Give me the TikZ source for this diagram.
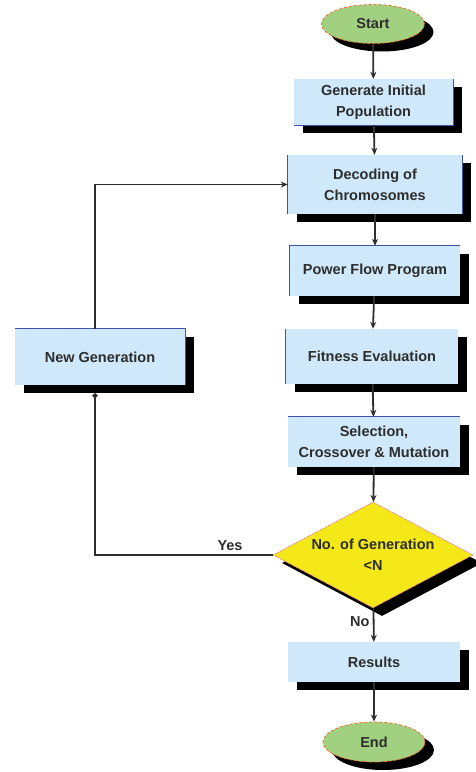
\documentclass[tikz,border=0pt]{standalone}
\usepackage{fontspec}
\setmainfont{Liberation Sans}
\usetikzlibrary{shapes.geometric,shadows,arrows.meta}
\definecolor{boxblue}{RGB}{207,233,250}
\definecolor{rimblue}{RGB}{62,84,168}
\definecolor{termgreen}{RGB}{160,208,128}
\definecolor{termedge}{RGB}{232,112,42}
\definecolor{testyellow}{RGB}{244,232,24}
\definecolor{testedge}{RGB}{232,110,170}
\definecolor{ink}{RGB}{45,45,45}
\tikzset{
  every node/.style={font=\fontsize{14.5}{21}\selectfont\bfseries, text=ink, align=center},
  shadowed/.style={drop shadow={fill=black, opacity=1, shadow xshift=9pt, shadow yshift=-8pt}},
  termbox/.style={ellipse, shadowed, fill=termgreen, draw=termedge, dash pattern=on 3pt off 2pt, line width=0.8pt, inner sep=0pt},
  procbox/.style={rectangle, shadowed, fill=boxblue, inner sep=0pt},
  testbox/.style={diamond, shadowed, fill=testyellow, draw=testedge, dash pattern=on 2pt off 1pt, line width=0.6pt, aspect=1.9, inner sep=0pt},
  rim/.style={draw=rimblue, line width=1.1pt},
}
\begin{document}
\begin{tikzpicture}[x=1pt, y=-1pt]
      \useasboundingbox (0,0) rectangle (475,772);
      \node[termbox, minimum width=103pt, minimum height=39pt] (start) at (373,24) {Start};
      \node[procbox, minimum width=159pt, minimum height=46pt] (init) at (373.5,102) {Generate Initial\\Population};
      \node[procbox, minimum width=174pt, minimum height=59pt] (decode) at (375,184.5) {Decoding of\\Chromosomes};
      \node[procbox, minimum width=170pt, minimum height=50pt] (flow) at (375,271) {Power Flow Program};
      \node[procbox, minimum width=172pt, minimum height=55pt] (fitness) at (372,356.5) {Fitness Evaluation};
      \node[procbox, minimum width=172pt, minimum height=50pt] (select) at (374,442) {Selection,\\Crossover \& Mutation};
      \node[testbox, minimum width=200pt, minimum height=106pt] (test) at (373,555) {No. of Generation\\<N};
      \node[procbox, minimum width=172pt, minimum height=40pt] (result) at (374,662) {Results};
      \node[termbox, minimum width=102pt, minimum height=40pt] (end) at (374,742) {End};
      \node[procbox, minimum width=170pt, minimum height=56pt] (newgen) at (100,357) {New Generation};
      % box rims
      \draw[rim] (init.north east) -- (init.south east) -- (init.south west);
      \draw[rim] (decode.north west) -- (decode.south west) (decode.north east) -- (decode.south east);
      \draw[rim] (flow.south west) -- (flow.north west) -- (flow.north east);
      \draw[rim] (fitness.north west) -- (fitness.south west);
      \draw[rim] (select.north west) -- (select.north east);
      \draw[rim] (newgen.north west) -- (newgen.north east) -- (newgen.south east);
      \begin{scope}[->, >={Stealth[length=7pt,width=6pt]}, draw=ink, line width=1.8pt]
        \draw (start) to (init);
        \draw (init) to (decode);
        \draw (decode) to (flow);
        \draw (flow) to (fitness);
        \draw (fitness) to (select);
        \draw (select) to (test);
        \draw (test) to node[left, pos=0.4] {No} (result);
        \draw (result) to (end);
        \draw ([xshift=-5pt]newgen.north) |- (decode.west);
        \draw[{Circle[length=5pt,width=5pt]}-{}] ([xshift=-5pt,yshift=-8pt]newgen.south) |- node[above, pos=0.88] {Yes} (test.west);
      \end{scope}
    \end{tikzpicture}
\end{document}
